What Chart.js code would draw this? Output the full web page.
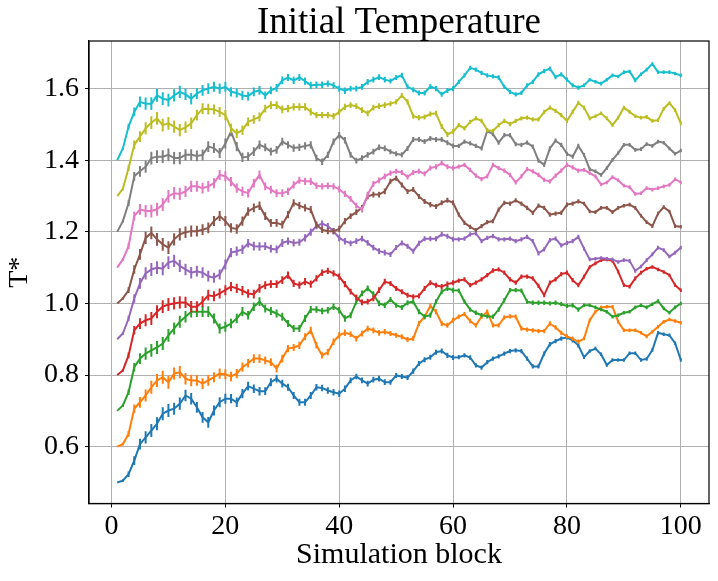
<!DOCTYPE html>
<html>
<head>
<meta charset="utf-8">
<style>
  html, body { margin: 0; padding: 0; background: #ffffff; }
  #wrap { width: 718px; height: 581px; }
</style>
<script src="https://cdn.jsdelivr.net/npm/chart.js@4.4.0/dist/chart.umd.min.js"></script>
</head>
<body>
<div id="wrap"><canvas id="c" width="718" height="581"></canvas></div>
<script>
const titleText = "Initial Temperature";
const xLabel = "Simulation block";
const yLabel = "T*";

const blocks = [1,2,3,4,5,6,7,8,9,10,11,12,13,14,15,16,17,18,19,20,
  21,22,23,24,25,26,27,28,29,30,31,32,33,34,35,36,37,38,39,40,
  41,42,43,44,45,46,47,48,49,50,51,52,53,54,55,56,57,58,59,60,
  61,62,63,64,65,66,67,68,69,70,71,72,73,74,75,76,77,78,79,80,
  81,82,83,84,85,86,87,88,89,90,91,92,93,94,95,96,97,98,99,100];

const xTicks = [0, 20, 40, 60, 80, 100];
const yTicks = [0.6, 0.8, 1.0, 1.2, 1.4, 1.6];

const seriesColors = ["#1f77b4","#ff7f0e","#2ca02c","#d62728","#9467bd","#8c564b","#e377c2","#7f7f7f","#bcbd22","#17becf"];

const t050 = [0.500,0.505,0.523,0.561,0.607,0.626,0.645,0.664,0.692,0.701,0.706,0.720,0.743,0.734,0.710,0.682,0.668,0.701,0.724,0.734,0.734,0.724,
  0.748,0.769,0.762,0.755,0.755,0.780,0.790,0.776,0.766,0.743,0.724,0.724,0.743,0.766,0.764,0.757,0.752,0.748,0.762,0.785,0.796,0.785,0.776,0.787,0.790,
  0.780,0.780,0.799,0.796,0.793,0.811,0.832,0.843,0.850,0.864,0.867,0.855,0.849,0.850,0.855,0.849,0.827,0.821,0.836,0.846,0.852,0.860,0.867,0.869,
  0.867,0.846,0.824,0.824,0.860,0.886,0.895,0.902,0.905,0.897,0.883,0.850,0.867,0.874,0.858,0.828,0.842,0.842,0.842,0.861,0.861,0.842,0.845,0.870,0.918,0.914,0.911,0.889,0.842];
const t060 = [0.600,0.607,0.636,0.706,0.724,0.743,0.766,0.785,0.794,0.780,0.804,0.808,0.790,0.785,0.785,0.776,0.785,0.794,0.804,0.802,0.796,0.804,
  0.822,0.833,0.846,0.846,0.841,0.836,0.818,0.846,0.874,0.877,0.883,0.907,0.925,0.883,0.855,0.864,0.893,0.911,0.918,0.914,0.902,0.916,0.930,0.925,0.918,
  0.921,0.916,0.911,0.907,0.899,0.902,0.944,0.963,0.993,0.977,0.944,0.939,0.953,0.963,0.970,0.951,0.939,0.963,0.977,0.939,0.939,0.961,0.964,0.963,
  0.930,0.927,0.925,0.923,0.923,0.944,0.933,0.918,0.908,0.902,0.893,0.902,0.953,0.977,0.989,0.991,0.991,0.949,0.925,0.925,0.925,0.918,0.908,0.921,0.935,0.949,0.955,0.951,0.946];
const t070 = [0.700,0.715,0.752,0.822,0.846,0.860,0.869,0.877,0.888,0.911,0.930,0.949,0.963,0.977,0.977,0.977,0.977,0.958,0.930,0.935,0.944,0.958,
  0.977,0.967,0.991,1.005,0.986,0.979,0.972,0.963,0.944,0.930,0.930,0.958,0.983,0.983,0.979,0.981,0.991,0.981,0.958,0.967,1.005,1.028,1.042,1.026,1.000,
  0.995,1.011,0.995,0.989,1.002,1.005,0.977,0.963,0.967,1.005,1.033,1.042,1.037,1.036,1.005,0.983,0.974,0.967,0.964,0.963,0.983,1.009,1.037,1.037,
  1.036,1.005,1.002,1.002,1.002,1.000,1.002,0.998,0.993,0.995,0.983,0.995,0.995,0.989,0.983,0.977,0.963,0.967,0.974,0.977,0.989,0.995,0.989,0.998,1.007,0.986,0.974,0.989,1.000];
const t080 = [0.800,0.813,0.855,0.925,0.944,0.953,0.958,0.977,0.991,0.997,1.000,1.003,1.003,0.991,0.991,1.005,1.023,1.020,1.028,1.037,1.047,1.042,
  1.036,1.028,1.026,1.042,1.051,1.054,1.054,1.065,1.079,1.056,1.051,1.061,1.054,1.070,1.086,1.091,1.084,1.075,1.054,1.033,1.017,1.003,1.005,1.014,1.037,
  1.061,1.056,1.042,1.033,1.023,1.019,1.021,1.042,1.058,1.051,1.047,1.054,1.058,1.064,1.067,1.051,1.058,1.067,1.079,1.092,1.095,1.086,1.067,1.058,
  1.075,1.075,1.070,1.049,1.023,1.058,1.067,1.082,1.086,1.065,1.051,1.075,1.102,1.112,1.121,1.123,1.119,1.089,1.051,1.047,1.070,1.086,1.097,1.102,1.095,1.088,1.079,1.051,1.037];
const t090 = [0.900,0.916,0.958,1.014,1.056,1.084,1.095,1.100,1.097,1.114,1.119,1.105,1.095,1.086,1.090,1.086,1.076,1.072,1.081,1.109,1.142,1.146,
  1.151,1.168,1.160,1.159,1.160,1.153,1.151,1.169,1.174,1.169,1.171,1.183,1.199,1.216,1.223,1.216,1.202,1.183,1.174,1.168,1.174,1.181,1.169,1.156,1.146,
  1.142,1.137,1.156,1.169,1.160,1.146,1.168,1.181,1.181,1.181,1.193,1.188,1.179,1.179,1.181,1.193,1.196,1.174,1.183,1.188,1.179,1.179,1.181,1.174,
  1.179,1.186,1.174,1.140,1.151,1.177,1.181,1.162,1.169,1.174,1.186,1.153,1.123,1.125,1.127,1.125,1.123,1.116,1.121,1.119,1.091,1.103,1.121,1.137,1.156,1.149,1.131,1.142,1.156];
const t100 = [1.000,1.014,1.037,1.095,1.137,1.183,1.197,1.179,1.165,1.156,1.179,1.193,1.199,1.202,1.202,1.206,1.211,1.230,1.244,1.230,1.211,1.208,
  1.230,1.257,1.267,1.273,1.244,1.225,1.225,1.220,1.248,1.281,1.273,1.267,1.262,1.220,1.206,1.202,1.202,1.208,1.230,1.244,1.255,1.267,1.299,1.304,1.304,
  1.313,1.341,1.350,1.331,1.313,1.318,1.299,1.285,1.276,1.271,1.281,1.288,1.281,1.248,1.225,1.214,1.205,1.216,1.227,1.230,1.262,1.281,1.279,1.288,
  1.279,1.267,1.253,1.273,1.267,1.248,1.251,1.253,1.276,1.279,1.285,1.279,1.257,1.255,1.267,1.267,1.255,1.267,1.273,1.276,1.267,1.245,1.227,1.216,1.251,1.269,1.257,1.216,1.214];
const t110 = [1.100,1.123,1.160,1.244,1.263,1.258,1.258,1.263,1.276,1.299,1.308,1.306,1.313,1.327,1.327,1.322,1.327,1.336,1.359,1.355,1.340,1.322,
  1.313,1.308,1.336,1.359,1.327,1.318,1.308,1.308,1.313,1.331,1.344,1.341,1.341,1.329,1.327,1.329,1.327,1.319,1.306,1.292,1.273,1.262,1.304,1.334,1.344,
  1.355,1.364,1.369,1.366,1.353,1.366,1.369,1.362,1.378,1.382,1.392,1.382,1.378,1.382,1.387,1.373,1.357,1.347,1.355,1.387,1.378,1.371,1.359,1.338,
  1.355,1.375,1.369,1.359,1.345,1.341,1.357,1.371,1.387,1.380,1.371,1.373,1.364,1.355,1.332,1.338,1.353,1.344,1.329,1.325,1.306,1.308,1.322,1.318,1.322,1.327,1.331,1.347,1.338];
const t120 = [1.200,1.230,1.280,1.355,1.369,1.382,1.406,1.410,1.410,1.415,1.406,1.406,1.415,1.415,1.412,1.415,1.438,1.434,1.420,1.447,1.480,1.438,
  1.408,1.410,1.424,1.443,1.436,1.424,1.429,1.452,1.443,1.434,1.436,1.440,1.443,1.406,1.396,1.415,1.452,1.470,1.456,1.415,1.399,1.406,1.415,1.424,1.436,
  1.433,1.424,1.418,1.415,1.433,1.458,1.458,1.452,1.461,1.458,1.458,1.449,1.440,1.440,1.452,1.447,1.440,1.433,1.482,1.473,1.449,1.470,1.470,1.445,
  1.443,1.449,1.438,1.399,1.387,1.433,1.455,1.443,1.418,1.410,1.440,1.415,1.375,1.369,1.359,1.378,1.401,1.420,1.443,1.443,1.429,1.431,1.445,1.440,1.452,1.449,1.433,1.418,1.427];
const t130 = [1.300,1.320,1.378,1.443,1.466,1.489,1.505,1.517,1.498,1.503,1.494,1.484,1.492,1.503,1.526,1.544,1.543,1.542,1.535,1.526,1.489,1.475,
  1.484,1.507,1.514,1.521,1.544,1.554,1.554,1.542,1.544,1.549,1.549,1.549,1.535,1.526,1.526,1.526,1.523,1.535,1.549,1.554,1.551,1.540,1.531,1.547,1.551,
  1.554,1.558,1.563,1.581,1.563,1.523,1.519,1.521,1.529,1.531,1.494,1.472,1.480,1.498,1.489,1.507,1.517,1.510,1.484,1.482,1.498,1.510,1.501,1.510,
  1.517,1.519,1.514,1.514,1.535,1.547,1.538,1.526,1.510,1.535,1.560,1.547,1.517,1.523,1.531,1.517,1.498,1.519,1.547,1.535,1.523,1.519,1.521,1.510,1.512,1.544,1.560,1.540,1.503];
const t140 = [1.400,1.433,1.494,1.535,1.563,1.558,1.558,1.581,1.572,1.568,1.581,1.591,1.584,1.572,1.586,1.595,1.600,1.605,1.600,1.605,1.591,1.588,
  1.581,1.579,1.591,1.595,1.581,1.595,1.602,1.623,1.631,1.623,1.631,1.621,1.609,1.611,1.611,1.614,1.609,1.600,1.594,1.600,1.600,1.605,1.619,1.625,1.632,
  1.625,1.621,1.631,1.637,1.605,1.597,1.588,1.588,1.606,1.600,1.584,1.595,1.600,1.619,1.637,1.658,1.653,1.644,1.637,1.634,1.631,1.605,1.591,1.584,
  1.588,1.609,1.619,1.640,1.649,1.656,1.632,1.640,1.625,1.609,1.603,1.609,1.625,1.619,1.614,1.625,1.637,1.634,1.646,1.648,1.623,1.640,1.653,1.669,1.646,1.646,1.646,1.642,1.637];

// standard error per block
const errs = [0.000,0.004,0.008,0.012,0.015,0.017,0.018,0.018,0.018,0.018,
  0.017,0.017,0.016,0.016,0.015,0.015,0.015,0.014,0.014,0.014,
  0.013,0.013,0.013,0.012,0.012,0.012,0.011,0.011,0.011,0.011,
  0.010,0.010,0.010,0.010,0.010,0.009,0.009,0.009,0.009,0.009,
  0.009,0.008,0.008,0.008,0.008,0.008,0.008,0.008,0.007,0.007,
  0.007,0.007,0.007,0.007,0.007,0.007,0.007,0.007,0.007,0.007,
  0.006,0.006,0.006,0.006,0.006,0.006,0.006,0.006,0.006,0.006,
  0.006,0.006,0.006,0.006,0.006,0.006,0.006,0.006,0.006,0.006,
  0.006,0.006,0.005,0.005,0.005,0.005,0.005,0.005,0.005,0.005,
  0.005,0.005,0.005,0.005,0.005,0.005,0.005,0.005,0.005,0.005];

const seriesList = [t050, t060, t070, t080, t090, t100, t110, t120, t130, t140];
const seriesNames = ["0.5","0.6","0.7","0.8","0.9","1.0","1.1","1.2","1.3","1.4"];

const datasets = seriesList.map((vals, i) => ({
  label: seriesNames[i],
  data: vals.map((v, j) => ({ x: blocks[j], y: v, e: errs[j] })),
  borderColor: seriesColors[i],
  backgroundColor: seriesColors[i],
  borderWidth: 2,
  pointRadius: 0,
  pointHoverRadius: 0,
  tension: 0,
  fill: false,
  order: seriesList.length - 1 - i
}));

const serif = "'Liberation Serif', 'DejaVu Serif', serif";

const errorBars = {
  id: 'errorBars',
  beforeDatasetDraw(chart, args) {
    const ds = chart.data.datasets[args.index];
    const xs = chart.scales.x, ys = chart.scales.y;
    const ctx = chart.ctx;
    ctx.save();
    ctx.beginPath();
    ctx.rect(chart.chartArea.left, chart.chartArea.top, chart.chartArea.right - chart.chartArea.left, chart.chartArea.bottom - chart.chartArea.top);
    ctx.clip();
    ctx.strokeStyle = ds.borderColor;
    ctx.lineWidth = 2;
    ctx.lineCap = 'butt';
    ctx.beginPath();
    ds.data.forEach(p => {
      if (!p.e) return;
      const px = xs.getPixelForValue(p.x);
      ctx.moveTo(px, ys.getPixelForValue(p.y - p.e));
      ctx.lineTo(px, ys.getPixelForValue(p.y + p.e));
    });
    ctx.stroke();
    ctx.restore();
  }
};

const frameAndTitle = {
  id: 'frameAndTitle',
  afterDraw(chart) {
    const a = chart.chartArea, ctx = chart.ctx;
    ctx.save();
    ctx.strokeStyle = '#000000';
    ctx.lineWidth = 1.2;
    ctx.strokeRect(a.left, a.top, a.right - a.left, a.bottom - a.top);
    ctx.fillStyle = '#000000';
    ctx.font = "37px " + serif;
    ctx.textAlign = 'center';
    ctx.textBaseline = 'alphabetic';
    ctx.fillText(titleText, (a.left + a.right) / 2, a.top - 8);
    ctx.restore();
  }
};

new Chart(document.getElementById('c'), {
  type: 'line',
  data: { datasets },
  plugins: [errorBars, frameAndTitle],
  options: {
    responsive: false,
    devicePixelRatio: 1,
    animation: false,
    events: [],
    layout: { padding: { left: 0, right: 9, top: 41, bottom: 0 } },
    plugins: {
      legend: { display: false },
      tooltip: { enabled: false },
      title: { display: false }
    },
    scales: {
      x: {
        type: 'linear',
        min: -3.95,
        max: 104.95,
        afterBuildTicks(scale) { scale.ticks = xTicks.map(v => ({ value: v })); },
        afterFit(scale) { scale.height = 77.5; },
        grid: { color: '#b0b0b0', lineWidth: 1, tickColor: '#000000', tickLength: 4, tickWidth: 1 },
        border: { display: true, color: '#000000', width: 1.2 },
        ticks: { color: '#000000', font: { family: serif, size: 28 }, padding: 2, maxRotation: 0, callback: v => String(v) },
        title: { display: true, text: xLabel, color: '#000000', font: { family: serif, size: 30 }, padding: { top: 0, bottom: 8 } }
      },
      y: {
        type: 'linear',
        min: 0.4413,
        max: 1.733,
        afterBuildTicks(scale) { scale.ticks = yTicks.map(v => ({ value: v })); },
        afterFit(scale) { scale.width = 89; },
        grid: { color: '#b0b0b0', lineWidth: 1, tickColor: '#000000', tickLength: 4, tickWidth: 1 },
        border: { display: true, color: '#000000', width: 1.2 },
        ticks: { color: '#000000', font: { family: serif, size: 28 }, padding: 6, callback: v => Number(v).toFixed(1) },
        title: { display: true, text: yLabel, color: '#000000', font: { family: serif, size: 28 }, padding: { top: 3, bottom: 0 } }
      }
    }
  }
});
</script>
</body>
</html>
